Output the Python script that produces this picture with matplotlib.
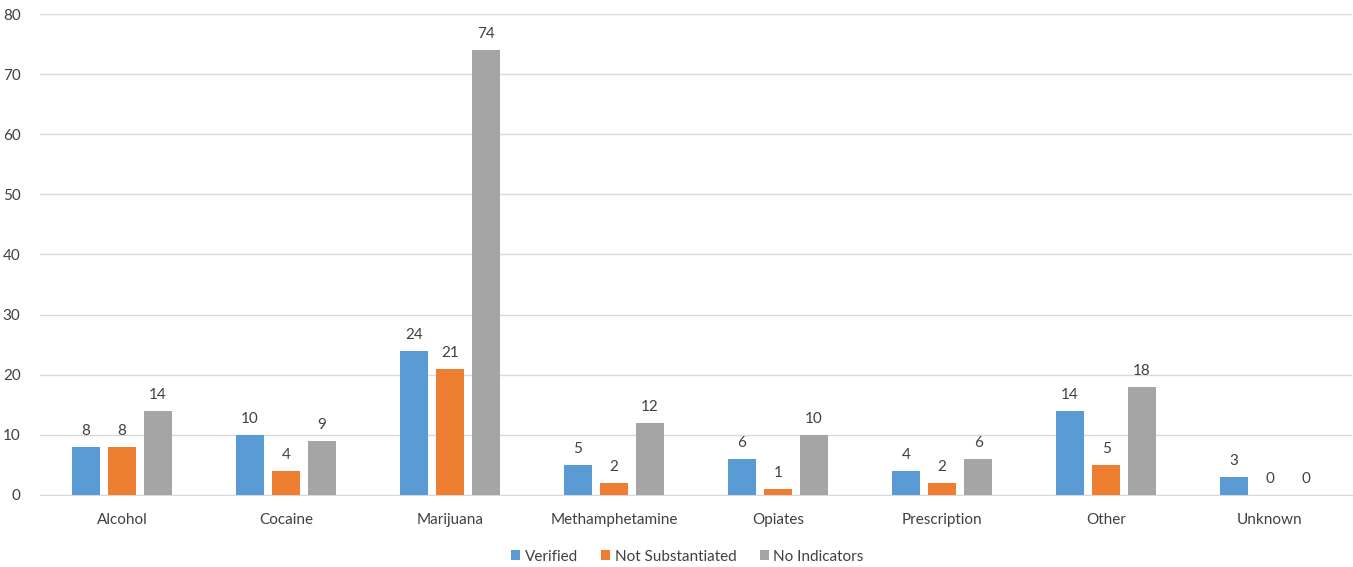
import matplotlib
matplotlib.use("Agg")
import matplotlib.pyplot as plt
import numpy as np

categories = ["Alcohol", "Cocaine", "Marijuana", "Methamphetamine", "Opiates", "Prescription", "Other", "Unknown"]
verified = [8, 10, 24, 5, 6, 4, 14, 3]
not_substantiated = [8, 4, 21, 2, 1, 2, 5, 0]
no_indicators = [14, 9, 74, 12, 10, 6, 18, 0]
series_names = ["Verified", "Not Substantiated", "No Indicators"]
colors = ["#5B9BD5", "#ED7D31", "#A5A5A5"]

plt.rcParams['font.family'] = ['Lato', 'DejaVu Sans']

fig = plt.figure(figsize=(13.53, 5.67), dpi=100)
ax = fig.add_axes([0.0296, 0.127, 0.9697, 0.8483])

x = np.arange(len(categories))
w = 0.17
step = 0.22
series = [verified, not_substantiated, no_indicators]
for i, (vals, name, c) in enumerate(zip(series, series_names, colors)):
    pos = x + (i - 1) * step
    bars = ax.bar(pos, vals, width=w, color=c, label=name, zorder=3)
    for xp, v in zip(pos, vals):
        ax.text(xp, v + 1.5, str(v), ha='center', va='bottom', fontsize=11, color='#404040')

ax.set_xlim(-0.5, len(categories) - 0.5)
ax.set_ylim(0, 80)
ax.set_yticks(range(0, 81, 10))
ax.set_xticks(x)
ax.set_xticklabels(categories)
ax.grid(axis='y', color='#D9D9D9', linewidth=1, zorder=0)
for s in ['top', 'right', 'left']:
    ax.spines[s].set_visible(False)
ax.spines['bottom'].set_color('#D9D9D9')
ax.tick_params(axis='both', length=0, labelsize=11, labelcolor='#404040')
ax.tick_params(axis='x', pad=13)
ax.tick_params(axis='y', pad=14)

leg = ax.legend(loc='upper center', bbox_to_anchor=(0.4935, -0.085), ncol=3, frameon=False,
                fontsize=11, handlelength=0.6, handleheight=0.6, handletextpad=0.3, columnspacing=1.5)
for t in leg.get_texts():
    t.set_color('#404040')

fig.savefig("out.png", dpi=100)
